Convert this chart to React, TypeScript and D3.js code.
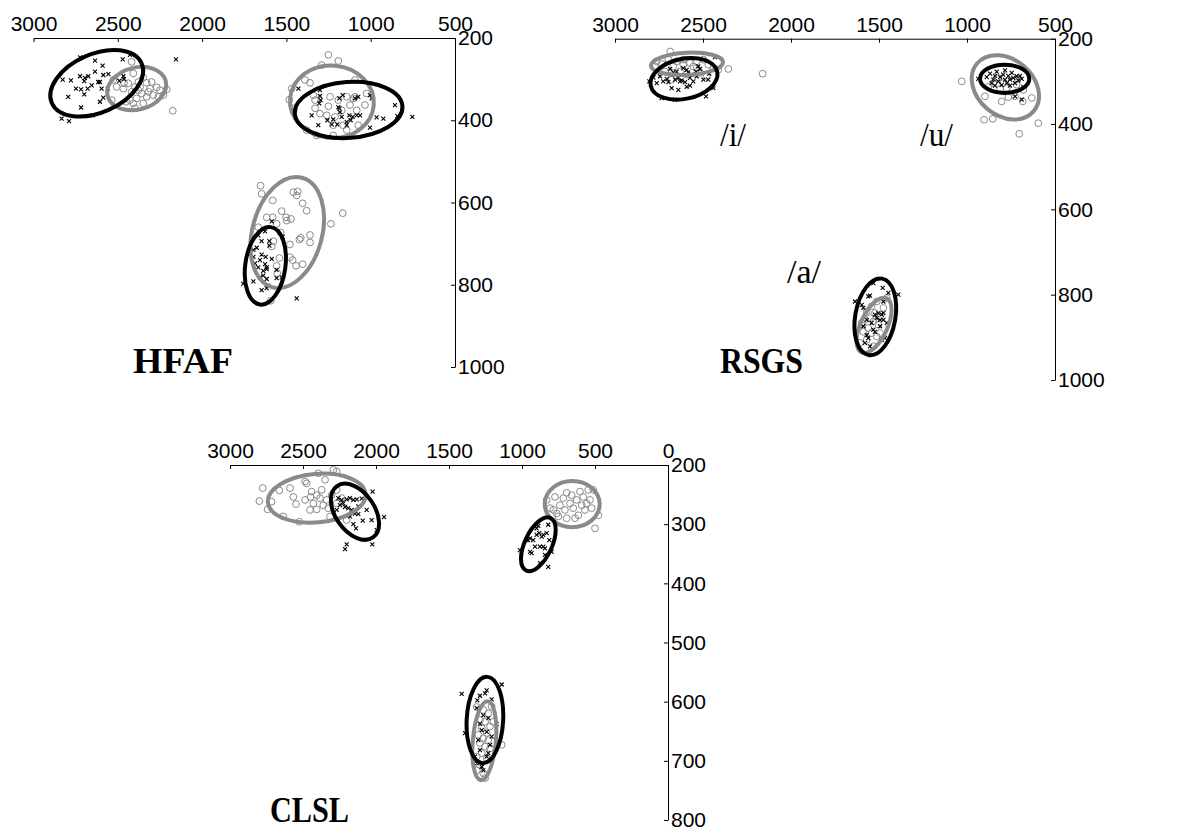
import React, { useEffect, useRef } from "react";
import * as d3 from "d3";

type Pt = [number, number]; // [F2, F1]

// ---------- tick labels ----------
const topTicksF2 = [3000, 2500, 2000, 1500, 1000, 500];
const topTicksF1 = [200, 400, 600, 800, 1000];
const clslTicksF2 = [3000, 2500, 2000, 1500, 1000, 500, 0];
const clslTicksF1 = [200, 300, 400, 500, 600, 700, 800];

// ---------- HFAF ----------
const hfafBlackI: Pt[] = [[2724,247],[2635,255],[2590,267],[2471,252],[2428,241],[2827,301],[2778,303],[2724,293],[2695,297],[2675,293],[2699,305],[2616,307],[2586,290],[2556,288],[2606,307],[2748,323],[2718,325],[2679,323],[2699,337],[2655,315],[2596,323],[2560,323],[2794,343],[2586,345],[2606,355],[2718,369],[2833,396],[2789,402],[2649,388],[2467,293],[2463,300],[2491,304],[2635,282],[2155,252]];
const hfafGreyI: Pt[] = [[2418,258],[2408,286],[2349,296],[2378,307],[2329,309],[2438,310],[2398,319],[2368,320],[2309,323],[2269,320],[2250,327],[2210,325],[2289,339],[2260,343],[2329,343],[2358,335],[2418,331],[2388,347],[2428,351],[2408,359],[2349,359],[2398,371],[2451,355],[2467,323],[2507,319],[2527,302],[2487,294],[2299,307],[2378,327],[2319,331],[2230,339],[2174,377],[2536,351],[2463,310]];
const hfafBlackU: Pt[] = [[1429,323],[1301,327],[1301,341],[1297,351],[1305,359],[1350,388],[1311,412],[1257,400],[1231,410],[1251,441],[1186,347],[1166,339],[1192,368],[1182,380],[1172,392],[1142,404],[1127,388],[1119,400],[1093,347],[1074,343],[1083,388],[1063,388],[1142,412],[1198,410],[1004,339],[994,347],[1004,418],[965,393],[925,396],[856,363],[842,390],[753,392],[1186,371],[1222,398],[1107,392]];
const hfafGreyU: Pt[] = [[1251,241],[1192,256],[1291,266],[1390,302],[1360,309],[1469,323],[1483,350],[1459,371],[1330,351],[1330,371],[1340,339],[1301,384],[1251,366],[1261,388],[1222,412],[1192,351],[1212,392],[1172,376],[1163,412],[1123,363],[1093,302],[1103,347],[1083,376],[1034,363],[1024,335],[1074,412],[1142,424],[1222,437],[1320,437],[1093,343],[1380,424],[1241,343],[1142,343]];
const hfafBlackA: Pt[] = [[1587,646],[1627,670],[1522,683],[1601,694],[1647,694],[1676,710],[1696,715],[1647,727],[1623,732],[1696,732],[1657,740],[1686,748],[1587,737],[1617,758],[1637,766],[1617,762],[1558,764],[1637,778],[1657,782],[1617,786],[1558,784],[1528,782],[1696,792],[1756,797],[1647,813],[1617,808],[1439,833],[1607,802],[1667,758],[1627,750],[1601,705],[1667,680]];
const hfafGreyA: Pt[] = [[1653,559],[1647,579],[1433,573],[1439,583],[1581,595],[1404,602],[1380,620],[1166,626],[1236,652],[1617,636],[1581,636],[1528,621],[1502,636],[1473,640],[1498,644],[1558,652],[1667,660],[1415,686],[1360,679],[1360,697],[1479,702],[1577,694],[1587,707],[1542,735],[1479,733],[1463,740],[1443,754],[1404,750],[1558,754],[1554,772],[1593,839],[1459,575],[1534,673],[1423,690]];

// ---------- RSGS ----------
const rsgsBlackI: Pt[] = [[2805,300],[2782,291],[2744,288],[2735,339],[2687,271],[2678,284],[2669,279],[2659,296],[2640,292],[2621,298],[2612,269],[2593,273],[2584,279],[2574,292],[2565,284],[2540,277],[2527,265],[2517,271],[2498,296],[2470,296],[2464,282],[2441,316],[2432,243],[2483,335],[2593,313],[2640,320],[2678,316],[2659,343],[2726,300],[2763,304],[2697,302],[2631,300],[2602,302],[2555,300],[2536,288],[2650,277],[2706,294],[2574,310]];
const rsgsGreyI: Pt[] = [[2687,230],[2763,253],[2735,259],[2697,249],[2650,253],[2612,261],[2574,257],[2536,253],[2498,249],[2470,261],[2441,269],[2413,273],[2356,271],[2161,282],[2716,277],[2669,265],[2631,277],[2593,284],[2555,265],[2517,280],[2479,288],[2612,249],[2536,269],[2678,296],[2773,265]];
const rsgsBlackU: Pt[] = [[936,294],[888,290],[869,282],[850,296],[841,287],[831,277],[822,300],[812,290],[794,284],[784,296],[774,304],[765,287],[756,296],[746,280],[737,292],[727,304],[718,288],[708,298],[699,287],[689,294],[803,308],[756,310],[727,335],[689,343],[860,304],[784,274],[841,310],[680,313]];
const rsgsGreyU: Pt[] = [[1030,300],[898,335],[803,347],[765,337],[727,335],[683,347],[632,339],[680,320],[903,390],[854,388],[595,398],[703,423],[850,304],[794,304],[746,300],[822,292],[718,308],[774,316],[812,318],[879,313]];
const rsgsBlackA: Pt[] = [[1636,816],[1598,824],[1589,831],[1561,804],[1551,802],[1532,773],[1479,784],[1390,800],[1447,796],[1475,816],[1504,843],[1485,847],[1494,859],[1513,855],[1475,859],[1532,882],[1523,887],[1570,894],[1561,902],[1580,913],[1551,921],[1485,906],[1466,902],[1494,874],[1542,866],[1523,847],[1475,843],[1570,859],[1589,874],[1456,866]];
const rsgsGreyA: Pt[] = [[1456,808],[1513,816],[1542,827],[1570,839],[1523,843],[1494,851],[1551,855],[1580,859],[1532,863],[1504,870],[1561,878],[1589,887],[1542,890],[1570,906],[1513,898],[1608,913],[1532,921],[1475,831],[1598,866],[1494,890]];

// ---------- CLSL ----------
const clslBlackI: Pt[] = [[2258,256],[2235,259],[2224,265],[2201,258],[2178,256],[2155,259],[2132,258],[2098,257],[2247,268],[2212,271],[2190,273],[2167,276],[2144,282],[2121,283],[2064,276],[2023,245],[2030,293],[1945,288],[2091,294],[2155,300],[2137,307],[2201,334],[2212,342],[2025,334],[2269,276],[2121,270],[2178,287],[1995,310]];
const clslGreyI: Pt[] = [[2776,239],[2799,261],[2742,275],[2715,262],[2662,243],[2635,287],[2566,254],[2548,266],[2525,296],[2486,228],[2475,231],[2448,254],[2429,265],[2395,214],[2406,275],[2384,256],[2349,225],[2338,259],[2327,273],[2315,287],[2292,208],[2269,211],[2269,242],[2235,256],[2201,293],[2372,242],[2452,276],[2361,268],[2304,251],[2486,259],[2441,245],[2269,265],[2589,239],[2406,251]];
const clslBlackU: Pt[] = [[1014,344],[968,327],[957,327],[945,347],[934,349],[923,327],[900,307],[888,303],[882,315],[877,338],[865,321],[854,318],[854,338],[843,341],[831,315],[820,301],[813,327],[797,347],[820,372],[877,366],[945,324],[900,318],[843,352],[911,338]];
const clslGreyU: Pt[] = [[831,259],[808,273],[774,254],[762,282],[740,268],[717,256],[706,276],[694,290],[671,265],[660,251],[649,273],[626,259],[614,285],[603,245],[591,268],[580,254],[569,276],[546,242],[534,259],[523,273],[512,242],[500,307],[477,285],[785,276],[637,290],[694,247],[557,265],[751,287]];
const clslBlackA: Pt[] = [[1413,587],[1306,598],[1288,590],[1253,586],[1242,581],[1208,596],[1139,571],[1310,611],[1265,623],[1231,628],[1288,637],[1174,638],[1276,648],[1390,653],[1242,651],[1299,665],[1219,673],[1288,682],[1242,693],[1310,704],[1276,710],[1265,716],[1231,687],[1322,693],[1208,659]];
const clslGreyA: Pt[] = [[1310,609],[1265,614],[1231,620],[1208,608],[1288,631],[1253,634],[1219,642],[1276,645],[1242,653],[1299,656],[1265,662],[1231,665],[1288,670],[1253,676],[1219,679],[1276,687],[1310,693],[1242,696],[1288,707],[1265,721],[1310,716],[1139,673],[1197,634],[1253,729]];

// ---------- ellipses: [F2 centre, F1 centre, F2 radius, F1 radius, tilt deg] ----------
type Ell = { group: "black" | "grey"; f2: number; f1: number; rF2: number; rF1: number; tilt: number };
const hfafEllipses: Ell[] = [
  { group: "grey", f2: 2388, f1: 323, rF2: 178, rF1: 51, tilt: -15 },
  { group: "black", f2: 2625, f1: 310, rF2: 291, rF1: 71, tilt: -24 },
  { group: "grey", f2: 1230, f1: 355, rF2: 249, rF1: 88, tilt: 5 },
  { group: "black", f2: 1131, f1: 375, rF2: 320, rF1: 68, tilt: -4 },
  { group: "grey", f2: 1495, f1: 673, rF2: 207, rF1: 138, tilt: 15 },
  { group: "black", f2: 1625, f1: 754, rF2: 119, rF1: 95, tilt: 8 },
];
const rsgsEllipses: Ell[] = [
  { group: "grey", f2: 2591, f1: 259, rF2: 205, rF1: 26, tilt: -3 },
  { group: "black", f2: 2608, f1: 294, rF2: 193, rF1: 47, tilt: -12 },
  { group: "grey", f2: 782, f1: 314, rF2: 210, rF1: 66, tilt: 40 },
  { group: "black", f2: 786, f1: 294, rF2: 140, rF1: 33, tilt: 0 },
  { group: "grey", f2: 1528, f1: 872, rF2: 76, rF1: 70, tilt: 25 },
  { group: "black", f2: 1521, f1: 852, rF2: 114, rF1: 91, tilt: 10 },
];
const clslEllipses: Ell[] = [
  { group: "grey", f2: 2406, f1: 256, rF2: 336, rF1: 41, tilt: -5 },
  { group: "black", f2: 2144, f1: 279, rF2: 215, rF1: 33, tilt: 55 },
  { group: "grey", f2: 656, f1: 266, rF2: 188, rF1: 39, tilt: 0 },
  { group: "black", f2: 888, f1: 334, rF2: 93, rF1: 49, tilt: 25 },
  { group: "black", f2: 1254, f1: 631, rF2: 125, rF1: 73, tilt: 3 },
  { group: "grey", f2: 1258, f1: 666, rF2: 79, rF1: 67, tilt: 5 },
];

const panelNames = ["HFAF", "RSGS", "CLSL"];
const vowelLabels = ["/i/", "/u/", "/a/"];

// layout (pixels)
const layout = [
  { xRange: [33.5, 455], yRange: [38, 367], title: { x: 133, y: 373, size: 36, len: 100 } },
  { xRange: [615, 1055], yRange: [38.7, 380], title: { x: 720, y: 373, size: 36, len: 83 } },
  { xRange: [230, 668], yRange: [465, 820], title: { x: 270, y: 822, size: 35, len: 79 } },
];
const vowelPos = [
  { x: 720, y: 146, len: 26 },
  { x: 920, y: 146, len: 33 },
  { x: 787, y: 283, len: 34 },
];

const GREY = "#8a8a8a";

export default function App() {
  const ref = useRef<SVGSVGElement | null>(null);

  useEffect(() => {
    const svg = d3.select(ref.current);
    svg.selectAll("*").remove();

    const panels = [
      { xDom: [3000, 500], yDom: [200, 1000], xt: topTicksF2, yt: topTicksF1,
        black: [hfafBlackI, hfafBlackU, hfafBlackA], grey: [hfafGreyI, hfafGreyU, hfafGreyA], ell: hfafEllipses },
      { xDom: [3000, 500], yDom: [200, 1000], xt: topTicksF2, yt: topTicksF1,
        black: [rsgsBlackI, rsgsBlackU, rsgsBlackA], grey: [rsgsGreyI, rsgsGreyU, rsgsGreyA], ell: rsgsEllipses },
      { xDom: [3000, 0], yDom: [200, 800], xt: clslTicksF2, yt: clslTicksF1,
        black: [clslBlackI, clslBlackU, clslBlackA], grey: [clslGreyI, clslGreyU, clslGreyA], ell: clslEllipses },
    ];

    panels.forEach((p, i) => {
      const L = layout[i];
      const x = d3.scaleLinear().domain(p.xDom).range(L.xRange);
      const y = d3.scaleLinear().domain(p.yDom).range(L.yRange);
      const g = svg.append("g");

      // axes
      const xAxis = d3.axisTop(x).tickValues(p.xt).tickSizeInner(-4).tickSizeOuter(0).tickPadding(7).tickFormat(d3.format("d"));
      const yAxis = d3.axisRight(y).tickValues(p.yt).tickSizeInner(-4).tickSizeOuter(0).tickPadding(3).tickFormat(d3.format("d"));
      const gx = g.append("g").attr("transform", `translate(0,${y(p.yDom[0])})`).call(xAxis);
      const gy = g.append("g").attr("transform", `translate(${x(p.xDom[1])},0)`).call(yAxis);
      [gx, gy].forEach((a) => {
        a.selectAll("path,line").attr("stroke", "#000").attr("stroke-width", 1);
        a.selectAll("text").attr("fill", "#000").attr("font-size", 21).attr("font-family", "'Liberation Sans', Arial, sans-serif");
      });

      // grey circles
      p.grey.forEach((arr) => {
        g.append("g").selectAll("circle").data(arr).enter().append("circle")
          .attr("cx", (d) => x(d[0])).attr("cy", (d) => y(d[1])).attr("r", 3.4)
          .attr("fill", "none").attr("stroke", GREY).attr("stroke-width", 1);
      });
      // black crosses
      p.black.forEach((arr) => {
        g.append("g").selectAll("path").data(arr).enter().append("path")
          .attr("d", (d) => {
            const cx = x(d[0]), cy = y(d[1]), s = 2;
            return `M${cx - s},${cy - s}L${cx + s},${cy + s}M${cx - s},${cy + s}L${cx + s},${cy - s}`;
          })
          .attr("stroke", "#000").attr("stroke-width", 1.1).attr("fill", "none");
      });
      // ellipses: grey first, then black
      const ells = [...p.ell.filter((e) => e.group === "grey"), ...p.ell.filter((e) => e.group === "black")];
      g.append("g").selectAll("ellipse").data(ells).enter().append("ellipse")
        .attr("cx", (e) => x(e.f2)).attr("cy", (e) => y(e.f1))
        .attr("rx", (e) => Math.abs(x(e.f2 + e.rF2) - x(e.f2)))
        .attr("ry", (e) => Math.abs(y(e.f1 + e.rF1) - y(e.f1)))
        .attr("transform", (e) => `rotate(${e.tilt},${x(e.f2)},${y(e.f1)})`)
        .attr("fill", "none")
        .attr("stroke", (e) => (e.group === "black" ? "#000" : GREY))
        .attr("stroke-width", 4);

      // title
      g.append("text").attr("x", L.title.x).attr("y", L.title.y)
        .attr("font-family", "'Liberation Serif', 'Times New Roman', serif").attr("font-weight", "bold")
        .attr("font-size", L.title.size).attr("textLength", L.title.len).attr("lengthAdjust", "spacingAndGlyphs")
        .attr("fill", "#000").text(panelNames[i]);
    });

    // vowel labels (RSGS panel)
    vowelLabels.forEach((v, k) => {
      svg.append("text").attr("x", vowelPos[k].x).attr("y", vowelPos[k].y)
        .attr("font-family", "'Liberation Serif', 'Times New Roman', serif").attr("font-size", 34)
        .attr("textLength", vowelPos[k].len).attr("lengthAdjust", "spacingAndGlyphs")
        .attr("fill", "#000").text(v);
    });
  }, []);

  return (
    <svg ref={ref} width={1184} height={830}
      style={{ position: "absolute", left: 0, top: 0, background: "#fff" }} />
  );
}
